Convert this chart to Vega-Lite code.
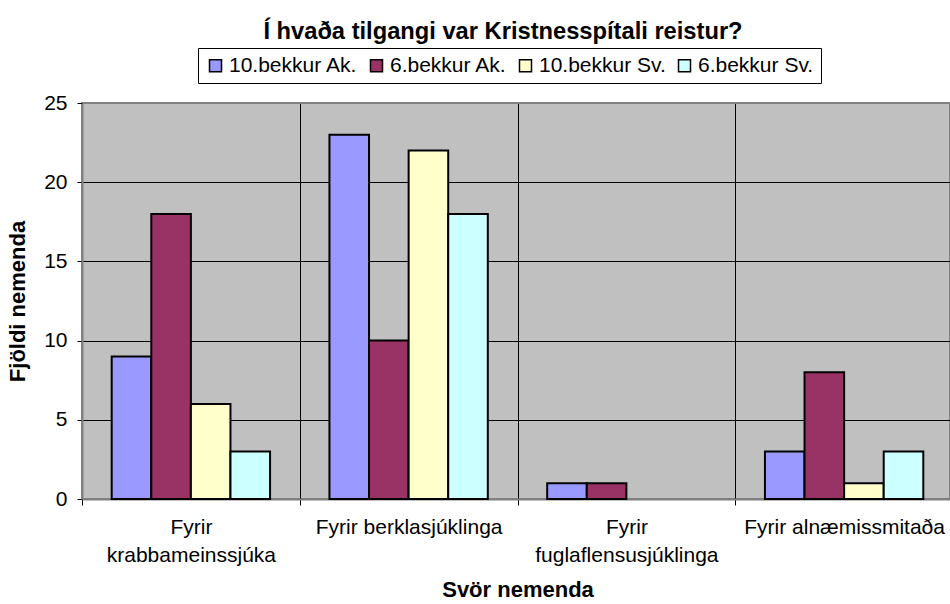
{
  "$schema": "https://vega.github.io/schema/vega-lite/v6.json",
  "width": 868,
  "height": 396,
  "autosize": {"type": "none"},
  "padding": {"left": 82, "top": 103, "right": 0, "bottom": 105},
  "background": "white",
  "config": {
    "font": "Liberation Sans",
    "view": {"fill": "#C0C0C0", "stroke": "#808080", "strokeWidth": 2}
  },
  "title": {
    "text": "Í hvaða tilgangi var Kristnesspítali reistur?",
    "fontSize": 23.7,
    "fontWeight": "bold",
    "color": "black",
    "anchor": "middle",
    "frame": "group",
    "dx": -13
  },
  "data": {
    "values": [
      {"svar": "Fyrir krabbameinssjúka", "hopur": "10.bekkur Ak.", "fjoldi": 9},
      {"svar": "Fyrir krabbameinssjúka", "hopur": "6.bekkur Ak.", "fjoldi": 18},
      {"svar": "Fyrir krabbameinssjúka", "hopur": "10.bekkur Sv.", "fjoldi": 6},
      {"svar": "Fyrir krabbameinssjúka", "hopur": "6.bekkur Sv.", "fjoldi": 3},
      {"svar": "Fyrir berklasjúklinga", "hopur": "10.bekkur Ak.", "fjoldi": 23},
      {"svar": "Fyrir berklasjúklinga", "hopur": "6.bekkur Ak.", "fjoldi": 10},
      {"svar": "Fyrir berklasjúklinga", "hopur": "10.bekkur Sv.", "fjoldi": 22},
      {"svar": "Fyrir berklasjúklinga", "hopur": "6.bekkur Sv.", "fjoldi": 18},
      {"svar": "Fyrir fuglaflensusjúklinga", "hopur": "10.bekkur Ak.", "fjoldi": 1},
      {"svar": "Fyrir fuglaflensusjúklinga", "hopur": "6.bekkur Ak.", "fjoldi": 1},
      {"svar": "Fyrir alnæmissmitaða", "hopur": "10.bekkur Ak.", "fjoldi": 3},
      {"svar": "Fyrir alnæmissmitaða", "hopur": "6.bekkur Ak.", "fjoldi": 8},
      {"svar": "Fyrir alnæmissmitaða", "hopur": "10.bekkur Sv.", "fjoldi": 1},
      {"svar": "Fyrir alnæmissmitaða", "hopur": "6.bekkur Sv.", "fjoldi": 3}
    ]
  },
  "mark": {"type": "bar", "stroke": "black", "strokeWidth": 2, "strokeJoin": "miter"},
  "encoding": {
    "x": {
      "field": "svar",
      "type": "nominal",
      "sort": null,
      "scale": {"paddingInner": 0, "paddingOuter": 0, "range": [0, 871]},
      "axis": {
        "title": "Svör nemenda",
        "tickBand": "extent",
        "grid": true,
        "gridColor": "black",
        "gridWidth": 1,
        "domainColor": "#808080",
        "domainWidth": 2,
        "tickColor": "black",
        "tickSize": 6,
        "labelAngle": 0,
        "labelFontSize": 21,
        "labelColor": "black",
        "labelLineHeight": 28,
        "labelPadding": 11,
        "labelLimit": 300,
        "labelExpr": "length(datum.label) > 21 ? split(datum.label, ' ') : datum.label",
        "titleFontSize": 22,
        "titleFontWeight": "bold",
        "titleColor": "black",
        "titlePadding": 14
      }
    },
    "xOffset": {
      "field": "hopur",
      "type": "nominal",
      "scale": {
        "domain": ["10.bekkur Ak.", "6.bekkur Ak.", "10.bekkur Sv.", "6.bekkur Sv."],
        "paddingInner": 0,
        "paddingOuter": 0.75
      }
    },
    "y": {
      "field": "fjoldi",
      "type": "quantitative",
      "scale": {"domain": [0, 25], "nice": false},
      "axis": {
        "title": "Fjöldi nemenda",
        "values": [0, 5, 10, 15, 20, 25],
        "grid": true,
        "gridColor": {"condition": {"test": "datum.value == 25 || datum.value == 0", "value": "#808080"}, "value": "black"},
        "gridWidth": 1,
        "domainColor": "#808080",
        "domainWidth": 2,
        "tickColor": "black",
        "tickSize": 5,
        "labelFontSize": 21,
        "labelColor": "black",
        "labelPadding": 10,
        "titleFontSize": 22,
        "titleFontWeight": "bold",
        "titleColor": "black",
        "titlePadding": 14
      }
    },
    "color": {
      "field": "hopur",
      "type": "nominal",
      "scale": {
        "domain": ["10.bekkur Ak.", "6.bekkur Ak.", "10.bekkur Sv.", "6.bekkur Sv."],
        "range": ["#9999FF", "#993366", "#FFFFCC", "#CCFFFF"]
      },
      "legend": {
        "orient": "none",
        "legendX": 116,
        "legendY": -55,
        "direction": "horizontal",
        "title": null,
        "strokeColor": "black",
        "fillColor": "white",
        "padding": 7,
        "symbolType": "square",
        "symbolSize": 144,
        "symbolStrokeColor": "black",
        "symbolStrokeWidth": 1.5,
        "labelFontSize": 21,
        "labelColor": "black",
        "labelOffset": 3,
        "columnPadding": 8,
        "labelLimit": 300
      }
    }
  }
}
